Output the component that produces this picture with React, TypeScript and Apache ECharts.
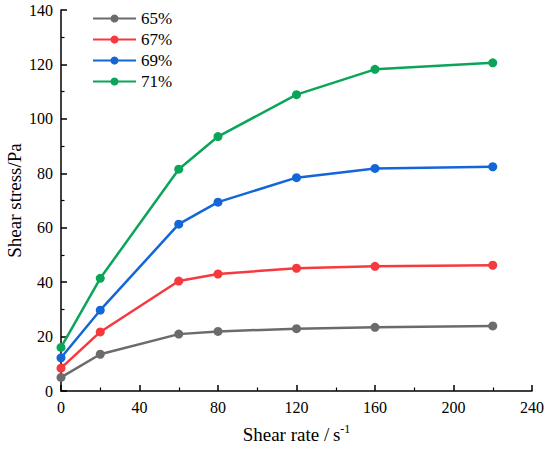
import React, { useEffect, useRef } from "react";
import * as echarts from "echarts";

const shearRates = [0, 20, 60, 80, 120, 160, 220];
const seriesNames = ["65%", "67%", "69%", "71%"];
const s65 = [5.0, 13.5, 20.9, 21.9, 22.9, 23.4, 23.9];
const s67 = [8.4, 21.7, 40.4, 43.0, 45.1, 45.8, 46.2];
const s69 = [12.2, 29.7, 61.3, 69.4, 78.4, 81.8, 82.4];
const s71 = [16.0, 41.4, 81.5, 93.5, 108.9, 118.2, 120.6];
const colors = ["#6b6b6b", "#f5393f", "#1466d8", "#0ba55a"];

const FONT = "Liberation Serif";

export default function App() {
  const ref = useRef<HTMLDivElement>(null);
  useEffect(() => {
    if (!ref.current) return;
    const chart = echarts.init(ref.current, null, { renderer: "svg" });
    const all = [s65, s67, s69, s71];
    chart.setOption({
      animation: false,
      textStyle: { fontFamily: FONT },
      grid: { left: 61, right: 18, top: 10, bottom: 58, outerBoundsMode: "none", containLabel: false },
      legend: {
        orient: "vertical",
        left: 87,
        top: 5,
        itemWidth: 43,
        itemHeight: 10,
        itemGap: 4,
        textStyle: { fontFamily: FONT, fontSize: 17, color: "#000" },
        data: seriesNames,
      },
      xAxis: {
        type: "value",
        min: 0,
        max: 240,
        interval: 40,
        name: "Shear rate /\u2009s{sup|-1}",
        nameLocation: "middle",
        nameGap: 32,
        nameMoveOverlap: false,
        nameTextStyle: {
          fontFamily: FONT,
          fontSize: 19,
          color: "#000",
          rich: {
            sup: { fontFamily: FONT, fontSize: 12, color: "#000", verticalAlign: "top", padding: [0, 0, 10, 0] },
          },
        },
        axisLine: { show: true, lineStyle: { color: "#000", width: 1.5 } },
        axisTick: { show: true, inside: true, length: 6, lineStyle: { color: "#000", width: 1.5 } },
        minorTick: { show: true, splitNumber: 2, length: 3.5, lineStyle: { color: "#000", width: 1.2 } },
        splitLine: { show: false },
        axisLabel: { fontFamily: FONT, fontSize: 16, color: "#000", margin: 8 },
      },
      yAxis: {
        type: "value",
        min: 0,
        max: 140,
        interval: 20,
        name: "Shear stress/Pa",
        nameLocation: "middle",
        nameGap: 37,
        nameMoveOverlap: false,
        nameTextStyle: { fontFamily: FONT, fontSize: 19, color: "#000" },
        axisLine: { show: true, lineStyle: { color: "#000", width: 1.5 } },
        axisTick: { show: true, inside: true, length: 6, lineStyle: { color: "#000", width: 1.5 } },
        minorTick: { show: true, splitNumber: 2, length: 3.5, lineStyle: { color: "#000", width: 1.2 } },
        splitLine: { show: false },
        axisLabel: { fontFamily: FONT, fontSize: 16, color: "#000", margin: 8 },
      },
      series: seriesNames.map((n, i) => ({
        name: n,
        type: "line",
        data: shearRates.map((x, j) => [x, all[i][j]]),
        symbol: "circle",
        symbolSize: 9,
        showSymbol: true,
        clip: false,
        lineStyle: { color: colors[i], width: 2.5 },
        itemStyle: { color: colors[i] },
      })),
    });
    return () => chart.dispose();
  }, []);
  return (
    <div
      ref={ref}
      style={{ position: "absolute", left: 0, top: 0, width: 550, height: 449 }}
    />
  );
}
